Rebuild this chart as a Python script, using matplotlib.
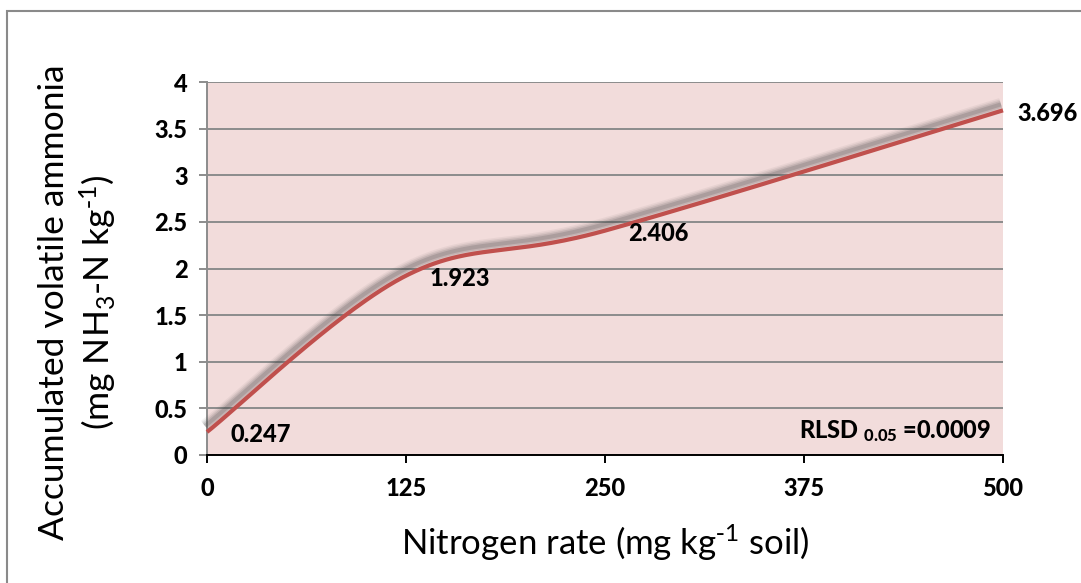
import numpy as np
import matplotlib
matplotlib.use("Agg")
import matplotlib.pyplot as plt
import matplotlib.transforms as mtransforms
from matplotlib.patches import Rectangle

# ---- data ----
nitrogen_rate = [0, 125, 250, 500]
ammonia = [0.247, 1.923, 2.406, 3.696]
value_labels = ["0.247", "1.923", "2.406", "3.696"]
x_ticks = [0, 125, 250, 375, 500]
y_ticks = [0, 0.5, 1, 1.5, 2, 2.5, 3, 3.5, 4]
y_tick_labels = ["0", "0.5", "1", "1.5", "2", "2.5", "3", "3.5", "4"]

plt.rcParams['font.family'] = ['Lato', 'DejaVu Sans']
plt.rcParams['mathtext.default'] = 'regular'

W, H = 1081, 583
fig = plt.figure(figsize=(W / 100, H / 100), dpi=100)
fig.patch.set_facecolor('white')

# outer chart frame
fig.patches.append(Rectangle((7 / W, -0.05), 1.2, 1 - 11 / H + 0.05, transform=fig.transFigure,
                             fill=False, edgecolor='#8a8a8a', linewidth=1.5))

ax = fig.add_axes([207 / W, 1 - 455 / H, (1003 - 207) / W, (455 - 82) / H])
ax.set_facecolor('#F2DCDB')


def smooth_curve(xs, ys, n=60):
    """Excel-style smoothed (Catmull-Rom Bezier) path through the points."""
    xs = np.asarray(xs, float)
    ys = np.asarray(ys, float)
    P = np.column_stack([xs, ys])
    out = []
    for i in range(len(P) - 1):
        p0 = P[i - 1] if i > 0 else P[i]
        p1 = P[i]
        p2 = P[i + 1]
        p3 = P[i + 2] if i + 2 < len(P) else P[i + 1]
        c1 = p1 + (p2 - p0) / 6.0
        c2 = p2 - (p3 - p1) / 6.0
        t = np.linspace(0, 1, n)[:, None]
        seg = ((1 - t) ** 3) * p1 + 3 * ((1 - t) ** 2) * t * c1 + 3 * (1 - t) * t ** 2 * c2 + t ** 3 * p2
        out.append(seg if i == 0 else seg[1:])
    seg = np.vstack(out)
    return seg[:, 0], seg[:, 1]


sx, sy = smooth_curve(nitrogen_rate, ammonia)

# blurred shadow
for lw, a in [(13, 0.06), (10, 0.09), (7, 0.13), (4, 0.18)]:
    tr = mtransforms.offset_copy(ax.transData, fig=fig, x=-2, y=6, units='dots')
    ax.plot(sx, sy, color='#404040', linewidth=lw * 0.72, alpha=a, transform=tr,
            solid_capstyle='butt', zorder=3, clip_on=False)

ax.plot(sx, sy, color='#C0504D', linewidth=3.0, zorder=4, solid_capstyle='butt', clip_on=False)

LBL_W = 'black'
FS = 17
label_dx = [17, 17, 17, 10]
for x, y, lab, dx in zip(nitrogen_rate, ammonia, value_labels, label_dx):
    ax.annotate(lab, (x, y), xytext=(dx, -2), textcoords='offset points',
                ha='left', va='center', fontsize=FS, fontweight=LBL_W, color='black',
                zorder=5, annotation_clip=False)

ax.set_xlim(0, 500)
ax.set_ylim(0, 4)
ax.set_xticks(x_ticks)
ax.set_xticklabels([str(v) for v in x_ticks], fontsize=FS, fontweight=LBL_W)
ax.set_yticks(y_ticks)
ax.set_yticklabels(y_tick_labels, fontsize=FS, fontweight=LBL_W)

ax.grid(axis='y', color='#8c8c8c', linewidth=1.4)
ax.set_axisbelow(True)
for s in ['top', 'right']:
    ax.spines[s].set_visible(False)
ax.spines['left'].set_color('#8c8c8c')
ax.spines['left'].set_linewidth(1.4)
ax.spines['bottom'].set_color('black')
ax.spines['bottom'].set_linewidth(1.4)
ax.tick_params(axis='y', length=6, width=1.4, color='#8c8c8c', pad=8)
ax.tick_params(axis='x', length=6, width=1.4, color='black', pad=10)

ax.set_xlabel(r"Nitrogen rate (mg kg$^{\text{-}1}$ soil)", fontsize=25, labelpad=16)
ax.set_ylabel("Accumulated volatile ammonia\n" + r"(mg NH$_3$-N kg$^{\text{-}1}$)", fontsize=25.5,
              linespacing=1.25)
ax.yaxis.set_label_coords(-0.11, 0.41)

ax.text(0.985, 0.065, r"RLSD $_{0.05}$ =0.0009", transform=ax.transAxes, ha='right', va='center',
        fontsize=FS, fontweight=LBL_W, zorder=5)

fig.savefig("out.png", dpi=100)
